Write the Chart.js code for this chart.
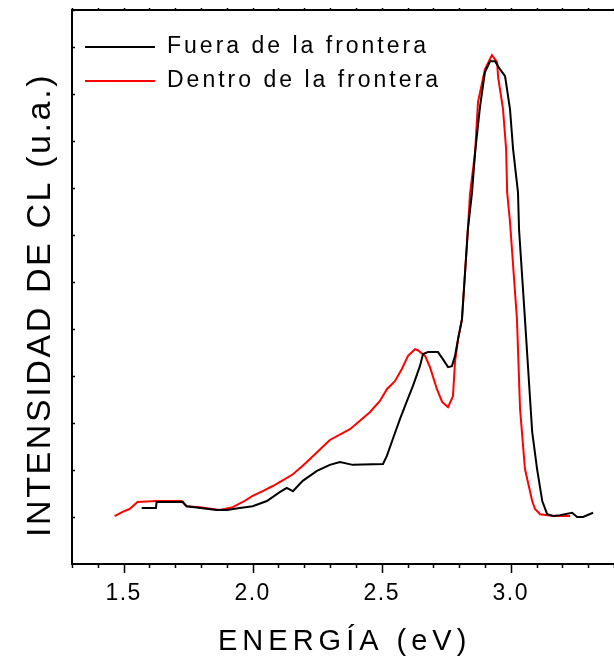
<!DOCTYPE html>
<html>
<head>
<meta charset="utf-8">
<script src="https://cdn.jsdelivr.net/npm/chart.js@4/dist/chart.umd.min.js"></script>
<style>
  html, body { margin: 0; padding: 0; background: #fff; }
  #wrap { width: 614px; height: 659px; }
</style>
</head>
<body>
<div id="wrap"><canvas id="cl" width="614" height="659"></canvas></div>
<script>
// === Datos: espectros de CL ===
const energiaFuera = [1.570, 1.625, 1.628, 1.729, 1.744, 1.861, 1.900, 1.950, 2.000, 2.055, 2.105, 2.132, 2.156, 2.194, 2.249, 2.299, 2.338, 2.388, 2.505, 2.520, 2.543, 2.571, 2.598, 2.621, 2.648, 2.660, 2.679, 2.718, 2.737, 2.757, 2.772, 2.784, 2.796, 2.811, 2.834, 2.850, 2.862, 2.881, 2.900, 2.920, 2.939, 2.958, 2.978, 2.997, 3.009, 3.028, 3.032, 3.055, 3.083, 3.102, 3.122, 3.141, 3.164, 3.191, 3.238, 3.257, 3.280, 3.319];
const intensidadFuera = [11.9, 11.9, 13.2, 13.2, 12.3, 11.5, 11.5, 11.9, 12.3, 13.4, 15.3, 16.2, 15.5, 17.7, 19.8, 21.1, 21.7, 21.1, 21.3, 23.0, 26.6, 30.9, 34.7, 37.9, 42.1, 44.7, 45.1, 45.1, 43.6, 41.9, 42.1, 44.3, 47.9, 52.1, 71.3, 79.1, 87.7, 97.4, 104.7, 107.0, 107.0, 105.3, 103.8, 96.8, 88.3, 79.1, 71.3, 52.1, 28.1, 20.2, 13.4, 10.6, 10.2, 10.4, 10.9, 10.0, 10.0, 10.9];

const energiaDentro = [1.465, 1.496, 1.523, 1.554, 1.628, 1.725, 1.744, 1.795, 1.872, 1.923, 1.962, 2.000, 2.039, 2.078, 2.113, 2.156, 2.194, 2.221, 2.299, 2.377, 2.454, 2.493, 2.520, 2.551, 2.578, 2.602, 2.629, 2.640, 2.668, 2.687, 2.714, 2.734, 2.757, 2.776, 2.784, 2.796, 2.811, 2.834, 2.842, 2.862, 2.873, 2.900, 2.927, 2.947, 2.951, 2.970, 2.982, 2.986, 2.997, 3.024, 3.036, 3.055, 3.083, 3.094, 3.114, 3.164, 3.230];
const intensidadDentro = [10.2, 11.1, 11.7, 13.2, 13.4, 13.4, 12.3, 12.1, 11.5, 12.1, 13.2, 14.5, 15.5, 16.6, 17.7, 19.1, 20.9, 22.3, 26.4, 28.7, 32.3, 34.7, 37.2, 38.9, 41.5, 44.3, 45.7, 45.5, 44.3, 41.9, 37.2, 34.5, 33.4, 35.7, 43.0, 47.9, 52.1, 71.3, 78.7, 87.7, 98.3, 105.3, 108.3, 106.8, 103.6, 96.8, 88.3, 79.1, 72.8, 52.1, 33.0, 20.2, 13.4, 11.7, 10.6, 10.2, 10.2];

const series = ["Fuera de la frontera", "Dentro de la frontera"];
const colores = ["#000000", "#ff0000"];
const ejeX = { min: 1.3, max: 3.4, paso: 0.1, pasoMayor: 0.5 };
const ejeY = { min: 0, max: 117.9, paso: 10 };
const tituloX = "ENERGÍA (eV)";
const tituloY = "INTENSIDAD DE CL (u.a.)";

const FONT = '"Liberation Sans", Arial, sans-serif';

function puntos(xs, ys) {
  return xs.map((x, i) => ({ x: x, y: ys[i] }));
}

function esMayor(v) {
  const r = v / ejeX.pasoMayor;
  return Math.abs(r - Math.round(r)) < 1e-6;
}

// --- texto con espaciado entre letras ---
function texto(ctx, str, x, y, size, spacing, rot) {
  ctx.save();
  ctx.font = size + "px " + FONT;
  ctx.fillStyle = "#000";
  ctx.textAlign = "left";
  ctx.textBaseline = "alphabetic";
  ctx.letterSpacing = spacing + "px";
  ctx.translate(x, y);
  if (rot) ctx.rotate(rot);
  ctx.fillText(str, 0, 0);
  ctx.restore();
}

// === marcas de los ejes, leyenda y títulos ===
const decoracion = {
  id: "decoracion",
  beforeDraw(chart) {
    chart.ctx.letterSpacing = "1.5px";
  },
  afterDraw(chart) {
    const ctx = chart.ctx;
    const { x, x2, y } = chart.scales;
    const area = chart.chartArea;
    ctx.save();
    ctx.strokeStyle = "#000";
    ctx.lineWidth = 1.5;
    ctx.beginPath();
    // abajo: mayores largas, menores cortas
    x.ticks.forEach((t) => {
      const px = Math.round(x.getPixelForValue(t.value)) + 0.5;
      const len = esMayor(t.value) ? 9 : 4;
      ctx.moveTo(px, area.bottom);
      ctx.lineTo(px, area.bottom + len);
    });
    // arriba
    x2.ticks.forEach((t) => {
      const px = Math.round(x2.getPixelForValue(t.value)) + 0.5;
      ctx.moveTo(px, area.top);
      ctx.lineTo(px, area.top - 2);
    });
    // izquierda, hacia dentro
    y.ticks.forEach((t) => {
      if (t.value === 0) return;
      const py = Math.round(y.getPixelForValue(t.value)) + 0.5;
      ctx.moveTo(area.left, py);
      ctx.lineTo(area.left + 3, py);
    });
    ctx.stroke();

    // leyenda
    const filas = [47, 81];
    series.forEach((s, i) => {
      ctx.strokeStyle = colores[i];
      ctx.lineWidth = 2;
      ctx.beginPath();
      ctx.moveTo(85, filas[i]);
      ctx.lineTo(155, filas[i]);
      ctx.stroke();
      texto(ctx, s, 167, filas[i] + 5.5, 23, 3);
    });
    ctx.restore();

    // títulos de los ejes
    texto(ctx, tituloX, 218, 650, 29, 5);
    texto(ctx, tituloY, 49.5, 537, 34, 2.6, -Math.PI / 2);
  },
};

new Chart(document.getElementById("cl"), {
  type: "line",
  data: {
    datasets: [
      {
        label: series[0],
        data: puntos(energiaFuera, intensidadFuera),
        borderColor: colores[0],
        borderWidth: 2,
        pointRadius: 0,
        tension: 0,
        xAxisID: "x",
        yAxisID: "y",
      },
      {
        label: series[1],
        data: puntos(energiaDentro, intensidadDentro),
        borderColor: colores[1],
        borderWidth: 2,
        pointRadius: 0,
        tension: 0,
        xAxisID: "x",
        yAxisID: "y",
      },
    ],
  },
  options: {
    responsive: false,
    animation: false,
    layout: { padding: 0 },
    plugins: {
      legend: { display: false },
      tooltip: { enabled: false },
    },
    scales: {
      x: {
        type: "linear",
        position: "bottom",
        min: ejeX.min,
        max: ejeX.max,
        ticks: {
          stepSize: ejeX.paso,
          autoSkip: false,
          maxRotation: 0,
          padding: 0,
          color: "#000",
          font: { family: FONT, size: 23 },
          callback: (v) => (esMayor(v) ? Number(v).toFixed(1) : ""),
        },
        // marcas invisibles: sólo separan las etiquetas del eje
        grid: { display: true, drawOnChartArea: false, drawTicks: true, tickLength: 16, tickColor: "rgba(0,0,0,0)" },
        border: { display: true, color: "#000", width: 2 },
        afterFit: (s) => { s.height = 95; s.paddingRight = 0; s.paddingLeft = 0; },
      },
      x2: {
        type: "linear",
        position: "top",
        min: ejeX.min,
        max: ejeX.max,
        ticks: { stepSize: ejeX.paso, display: false, autoSkip: false, padding: 0 },
        grid: { display: true, drawOnChartArea: false, drawTicks: false },
        border: { display: true, color: "#000", width: 2 },
        afterFit: (s) => { s.height = 10; s.paddingRight = 0; s.paddingLeft = 0; },
      },
      y: {
        type: "linear",
        position: "left",
        min: ejeY.min,
        max: ejeY.max,
        ticks: { stepSize: ejeY.paso, display: false, padding: 0 },
        grid: { display: true, drawOnChartArea: false, drawTicks: false },
        border: { display: true, color: "#000", width: 2 },
        afterFit: (s) => { s.width = 72; },
      },
    },
  },
  plugins: [decoracion],
});
</script>
</body>
</html>
